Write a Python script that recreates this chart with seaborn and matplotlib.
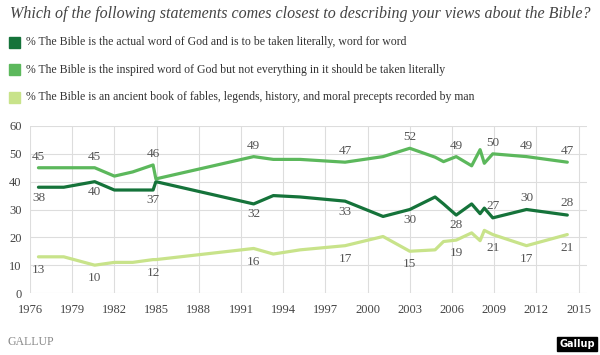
import pandas as pd
import matplotlib.pyplot as plt
import seaborn as sns
from matplotlib.patches import Rectangle

# survey dates (decimal years) and percentages
years = [1976.6, 1978.4, 1980.6, 1982.0, 1983.3, 1984.75, 1984.95, 1991.9, 1993.3,
         1995.2, 1998.4, 2001.1, 2003.0, 2004.8, 2005.4, 2006.3, 2007.4, 2008.0,
         2008.3, 2008.9, 2011.3, 2014.2]
literal = [38, 38, 40, 37, 37, 37, 40, 32, 35, 34.5, 33, 27.5, 30, 34.5, 32,
           28, 32, 28.5, 30.5, 27, 30, 28]
inspired = [45, 45, 45, 42, 43.5, 46, 41, 49, 48, 48, 47, 49, 52, 48.8, 47.2,
            49, 45.7, 51.5, 46.6, 50, 49, 47]
fables = [13, 13, 10, 11, 11, 12, 12, 16, 14, 15.5, 17, 20.3, 15, 15.5, 18.5,
          19, 21.6, 18.8, 22.5, 21, 17, 21]

series_names = [
    "% The Bible is the actual word of God and is to be taken literally, word for word",
    "% The Bible is the inspired word of God but not everything in it should be taken literally",
    "% The Bible is an ancient book of fables, legends, history, and moral precepts recorded by man",
]
colors = ["#15733a", "#5cb85c", "#c8e38a"]

# which points carry a value label
label_idx = [0, 2, 5, 7, 10, 12, 15, 19, 20, 21]
x_ticks = list(range(1976, 2016, 3))
y_ticks = list(range(0, 61, 10))

df = pd.DataFrame({"year": years * 3,
                   "pct": literal + inspired + fables,
                   "series": [series_names[0]] * len(years)
                   + [series_names[1]] * len(years)
                   + [series_names[2]] * len(years)})

sns.set_style("white")
plt.rcParams["font.family"] = ["Liberation Serif", "DejaVu Serif"]

fig = plt.figure(figsize=(6, 3.55), dpi=100)
ax = fig.add_axes([30 / 600, 62 / 355, 557 / 600, 167 / 355])

sns.lineplot(data=df, x="year", y="pct", hue="series", palette=colors,
             hue_order=series_names, estimator=None, linewidth=2.3,
             legend=False, ax=ax)

ax.set_xlim(1976, 2015.6)
ax.set_ylim(0, 60)
ax.set_xticks(x_ticks)
ax.set_yticks(y_ticks)
ax.tick_params(length=0, labelsize=9, colors="#444444")
ax.tick_params(axis="x", pad=8)
ax.tick_params(axis="y", pad=6)
ax.grid(True, color="#dddddd", linewidth=0.8)
ax.set_axisbelow(True)
for s in ax.spines.values():
    s.set_visible(False)
ax.set_xlabel("")
ax.set_ylabel("")

# value labels
for i in label_idx:
    ax.annotate(f"{inspired[i]:.0f}", (years[i], inspired[i]), xytext=(0, 8),
                textcoords="offset points", ha="center", va="center",
                fontsize=9.5, color="#555555")
    dy = 8.5 if i in (19, 20, 21) else -7.5
    ax.annotate(f"{literal[i]:.0f}", (years[i], literal[i]), xytext=(0, dy),
                textcoords="offset points", ha="center", va="center",
                fontsize=9.5, color="#555555")
    ax.annotate(f"{fables[i]:.0f}", (years[i], fables[i]), xytext=(0, -9.5),
                textcoords="offset points", ha="center", va="center",
                fontsize=9.5, color="#555555")

# title and legend
fig.text(10 / 600, 1 - 14 / 355, "Which of the following statements comes closest to describing your views about the Bible?",
         fontsize=11.5, style="italic", color="#444444", va="center")
for k, (name, c) in enumerate(zip(series_names, colors)):
    yc = 42 + k * 27.5
    fig.patches.append(Rectangle((9 / 600, 1 - (yc + 5.5) / 355), 11 / 600, 11 / 355,
                                 transform=fig.transFigure, color=c))
    fig.text(26 / 600, 1 - yc / 355, name, fontsize=8.5, color="#333333", va="center")

fig.text(7 / 600, 1 - 342 / 355, "GALLUP", fontsize=8.5, color="#888888", va="center")
fig.text(577 / 600, 1 - 344 / 355, "Gallup", fontsize=7, color="white", ha="center",
         va="center", family="DejaVu Sans", weight="bold",
         bbox=dict(boxstyle="square,pad=0.25", fc="black", ec="black"))

fig.savefig("out.png", dpi=100)
